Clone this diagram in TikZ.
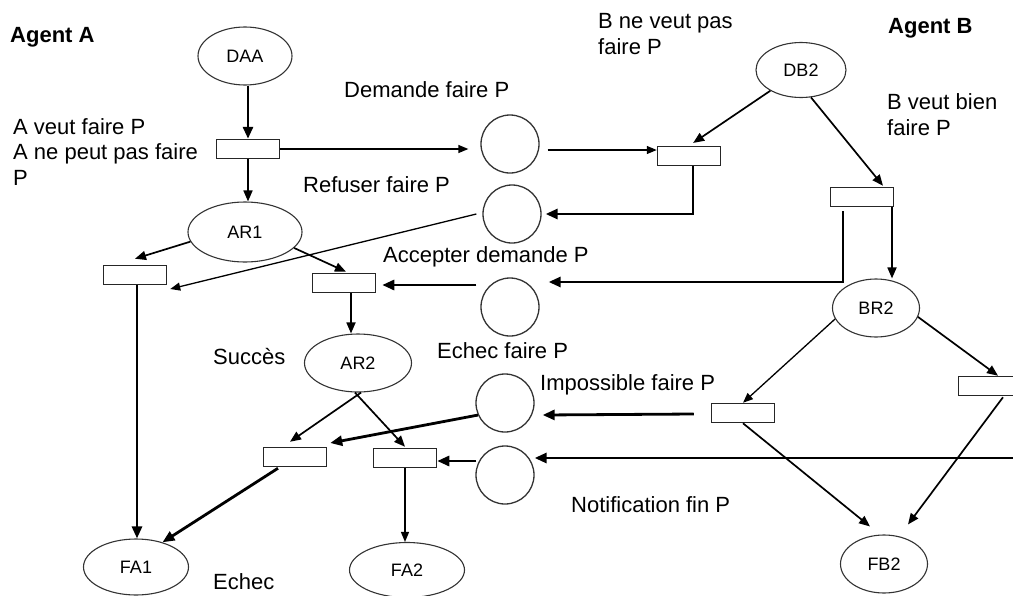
\documentclass[tikz,border=0pt]{standalone}
\usepackage{fontspec}
\setmainfont{Liberation Sans}
\usetikzlibrary{arrows.meta,shapes.geometric}
\tikzset{
  etat/.style={draw=black!80, ellipse, line width=1.1pt, inner sep=0pt, font=\fontsize{18}{20}\selectfont},
  place/.style={draw=black!80, circle, line width=1.3pt, minimum size=58pt, inner sep=0pt},
  trans/.style={draw=black!85, rectangle, line width=1.5pt, minimum width=63pt, minimum height=19pt, inner sep=0pt},
  txt/.style={anchor=base west, inner sep=0pt, align=left, font=\fontsize{22}{25.5}\selectfont},
  agent/.style={anchor=base west, inner sep=0pt, font=\fontsize{22}{25}\selectfont\bfseries},
  arrow/.style={-{Triangle[length=11pt,width=9pt]}, line width=1.7pt},
  thinarrow/.style={-{Triangle[length=10pt,width=8pt]}, line width=1.3pt},
  thickarrow/.style={-{Triangle[length=12pt,width=10pt]}, line width=2.8pt}
}
\begin{document}
\begin{tikzpicture}[x=1pt, y=-1pt]
\useasboundingbox (0,0) rectangle (1013,595);
\clip (0,0) rectangle (1013,595);
% etats
\node[etat, minimum width=94pt, minimum height=58pt] (daa) at (245,56) {DAA};
\node[etat, minimum width=90pt, minimum height=55pt] (db2) at (801,70) {DB2};
\node[etat, minimum width=114pt, minimum height=60pt] (ar1) at (245,232) {AR1};
\node[etat, minimum width=107pt, minimum height=58pt] (ar2) at (358,363) {AR2};
\node[etat, minimum width=87pt, minimum height=58pt] (br2) at (876,308) {BR2};
\node[etat, minimum width=105pt, minimum height=56pt] (fa1) at (136,567) {FA1};
\node[etat, minimum width=115pt, minimum height=55pt] (fa2) at (407,570) {FA2};
\node[etat, minimum width=87pt, minimum height=58pt] (fb2) at (884,564) {FB2};
% places (messages)
\node[place] (c1) at (510,144) {};
\node[place] (c2) at (512,214) {};
\node[place] (c3) at (510,307) {};
\node[place] (c4) at (505,403) {};
\node[place] (c5) at (505,475) {};
% transitions
\node[trans] (t1) at (248,149) {};
\node[trans] (t2) at (689,156) {};
\node[trans] (t3) at (862,197) {};
\node[trans] (t4) at (135,275) {};
\node[trans] (t5) at (344,283) {};
\node[trans] (t6) at (295,457) {};
\node[trans] (t7) at (405,458) {};
\node[trans] (t8) at (743,413) {};
\node[trans] (t9) at (990,386) {};
\coordinate (notif) at (1020,458);
% textes (base = derniere ligne)
\node[agent] (aga) at (10,42) {Agent A};
\node[agent] (agb) at (888,33) {Agent B};
\node[txt] (aveut) at (13,185) {A veut faire P\\A ne peut pas faire\\P};
\node[txt] (bneveut) at (598,54) {B ne veut pas\\faire P};
\node[txt] (bveut) at (887,135) {B veut bien\\faire P};
\node[txt] (dem) at (344,97) {Demande faire P};
\node[txt] (ref) at (303,192) {Refuser faire P};
\node[txt] (acc) at (383,262) {Accepter demande P};
\node[txt] (ech) at (437,358) {Echec faire P};
\node[txt] (imp) at (540,390) {Impossible faire P};
\node[txt] (succ) at (213,364) {Succès};
\node[txt] (notf) at (571,512) {Notification fin P};
\node[txt] (echec) at (213,589) {Echec};
% agent A
\draw[thickarrow] (t1 |- daa.south) -- (t1.north);
\draw[thinarrow] (t1.east) -- ([shift={(-12,0)}]c1.west |- t1.east);
\draw[arrow] (t1.south) -- (t1.south |- ar1.north);
\draw[arrow] (ar1.190) -- ([shift={(0,-6)}]t4.north);
\draw[arrow] (ar1.342) -- ([shift={(2,-1)}]t5.north);
\draw[arrow] ([shift={(7,0)}]t5.south) -- ([shift={(7,0)}]t5.south |- ar2.north);
\draw[arrow] (ar2.276) -- ([shift={(-5,-5)}]t6.north);
\draw[arrow] (ar2.264) -- ([shift={(0,-1)}]t7.north);
\draw[thickarrow] ([shift={(2,0)}]t4.south) -- ([shift={(2,0)}]t4.south |- fa1.north);
\draw[thickarrow] ([shift={(-17,1)}]t6.south) -- (fa1.43);
\draw[thinarrow] (t7.south) -- (t7.south |- fa2.north);
% messages
\draw[thinarrow] ([shift={(8,6)}]c1.east) -- ([shift={(0,-6)}]t2.west);
\draw[thickarrow] ([shift={(4,0)}]t2.south) |- ([shift={(4,0)}]c2.east);
\draw[thinarrow] ([shift={(-6,0)}]c2.west) -- ([shift={(3,14)}]t4.east);
\draw[thickarrow] ([shift={(-19,4)}]t3.south) |- ([shift={(9,-25)}]c3.east);
\draw[thickarrow] ([shift={(-4,-22)}]c3.west) -- ([shift={(6,2)}]t5.east);
\draw[thickarrow] ([shift={(-17,1)}]t8.west) -- ([shift={(8,12)}]c4.east);
\draw[thickarrow] (c4.204) -- ([shift={(3,-14)}]t6.east);
\draw[thickarrow] (notif) -- ([shift={(0,-17)}]c5.east);
\draw[thickarrow] ([shift={(1,-14)}]c5.west) -- ([shift={(0,3)}]t7.east);
% agent B
\draw[arrow, shorten >=5pt] (db2) -- (t2.north);
\draw[arrow] (db2.290) -- ([shift={(21,-1)}]t3.north);
\draw[arrow] ([shift={(30,0)}]t3.south) -- ([shift={(30,0)}]t3.south |- br2.north);
\draw[thinarrow] (br2.195) -- (t8.north);
\draw[arrow] (br2.348) -- ([shift={(8,0)}]t9.north);
\draw[arrow] (t8.south) -- ([shift={(-14,-8)}]fb2.north);
\draw[arrow] ([shift={(13,1)}]t9.south) -- ([shift={(24,-10)}]fb2.north);
\end{tikzpicture}
\end{document}
